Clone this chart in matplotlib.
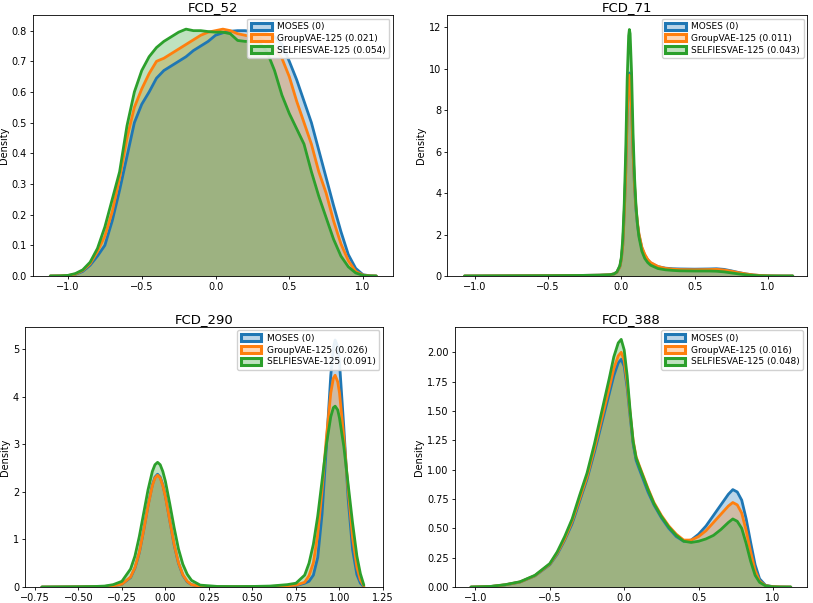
import matplotlib
matplotlib.use("Agg")
import matplotlib.pyplot as plt
from matplotlib.patches import Patch
from matplotlib.colors import to_rgba

series_labels = {
    "FCD_52": ["MOSES (0)", "GroupVAE-125 (0.021)", "SELFIESVAE-125 (0.054)"],
    "FCD_71": ["MOSES (0)", "GroupVAE-125 (0.011)", "SELFIESVAE-125 (0.043)"],
    "FCD_290": ["MOSES (0)", "GroupVAE-125 (0.026)", "SELFIESVAE-125 (0.091)"],
    "FCD_388": ["MOSES (0)", "GroupVAE-125 (0.016)", "SELFIESVAE-125 (0.048)"],
}
colors = ["#1f77b4", "#ff7f0e", "#2ca02c"]

# ---- FCD_52 ----
tl_x = [-1.12, -1.05, -1.0, -0.95, -0.9, -0.85, -0.8, -0.75, -0.7, -0.65, -0.6, -0.55, -0.5, -0.45,
        -0.4, -0.35, -0.3, -0.25, -0.2, -0.15, -0.1, -0.05, 0.0, 0.05, 0.1, 0.15, 0.2, 0.25, 0.3,
        0.35, 0.4, 0.45, 0.5, 0.55, 0.6, 0.65, 0.7, 0.75, 0.8, 0.85, 0.9, 0.95, 1.0, 1.05, 1.09]
tl_moses = [0, 0.0003, 0.001, 0.005, 0.015, 0.035, 0.065, 0.10, 0.18, 0.28, 0.39, 0.50, 0.56, 0.60,
            0.645, 0.67, 0.685, 0.70, 0.715, 0.735, 0.75, 0.765, 0.785, 0.793, 0.798, 0.80, 0.80,
            0.797, 0.795, 0.79, 0.78, 0.755, 0.70, 0.64, 0.57, 0.50, 0.41, 0.32, 0.23, 0.145, 0.07,
            0.025, 0.004, 0.0005, 0]
tl_group = [0, 0.0004, 0.0015, 0.006, 0.018, 0.04, 0.08, 0.13, 0.21, 0.32, 0.45, 0.55, 0.61, 0.66,
            0.70, 0.71, 0.725, 0.74, 0.755, 0.77, 0.785, 0.795, 0.80, 0.805, 0.80, 0.79, 0.785,
            0.78, 0.775, 0.76, 0.74, 0.71, 0.65, 0.57, 0.50, 0.43, 0.34, 0.27, 0.18, 0.105, 0.05,
            0.015, 0.003, 0.0004, 0]
tl_selfies = [0, 0.0005, 0.002, 0.008, 0.02, 0.045, 0.09, 0.16, 0.25, 0.34, 0.49, 0.60, 0.67, 0.715,
              0.745, 0.765, 0.78, 0.795, 0.805, 0.80, 0.80, 0.797, 0.795, 0.795, 0.79, 0.768, 0.765,
              0.765, 0.76, 0.73, 0.67, 0.59, 0.53, 0.48, 0.43, 0.34, 0.26, 0.19, 0.12, 0.065, 0.03,
              0.01, 0.002, 0.0003, 0]

# ---- FCD_71 ----
tr_x = [-1.07, -0.9, -0.7, -0.5, -0.3, -0.15, -0.08, -0.05, -0.03, -0.01, 0.0, 0.01, 0.02, 0.03,
        0.04, 0.05, 0.055, 0.06, 0.07, 0.08, 0.09, 0.10, 0.11, 0.12, 0.14, 0.16, 0.18, 0.2, 0.25,
        0.3, 0.35, 0.4, 0.5, 0.6, 0.65, 0.7, 0.75, 0.8, 0.85, 0.9, 0.95, 1.0, 1.05, 1.1, 1.17]
tr_moses = [0, 0.005, 0.01, 0.015, 0.025, 0.04, 0.06, 0.1, 0.18, 0.45, 0.8, 1.5, 3.0, 5.0, 7.9, 9.5,
            9.8, 9.6, 8.2, 6.0, 4.3, 3.2, 2.5, 2.0, 1.35, 1.0, 0.78, 0.63, 0.45, 0.38, 0.35, 0.34,
            0.33, 0.34, 0.35, 0.32, 0.25, 0.17, 0.1, 0.05, 0.02, 0.005, 0.001, 0, 0]
tr_group = [0, 0.005, 0.01, 0.015, 0.025, 0.04, 0.06, 0.1, 0.18, 0.45, 0.8, 1.5, 3.0, 4.9, 7.8, 9.4,
            9.7, 9.5, 8.1, 6.0, 4.4, 3.3, 2.6, 2.05, 1.4, 1.05, 0.8, 0.65, 0.46, 0.37, 0.33, 0.31,
            0.3, 0.31, 0.32, 0.29, 0.23, 0.16, 0.1, 0.055, 0.025, 0.01, 0.004, 0.001, 0]
tr_selfies = [0, 0.005, 0.01, 0.015, 0.025, 0.04, 0.06, 0.1, 0.2, 0.5, 0.9, 1.8, 3.5, 6.0, 9.5, 11.6,
              11.9, 11.7, 9.8, 6.9, 4.8, 3.4, 2.5, 1.9, 1.2, 0.85, 0.65, 0.52, 0.36, 0.3, 0.27, 0.25,
              0.24, 0.24, 0.23, 0.2, 0.15, 0.1, 0.06, 0.03, 0.01, 0.003, 0.001, 0, 0]

# ---- FCD_290 ----
bl_x = [-0.71, -0.6, -0.5, -0.4, -0.35, -0.3, -0.25, -0.2, -0.175, -0.15, -0.125, -0.1, -0.075,
        -0.06, -0.045, -0.03, -0.015, 0.0, 0.025, 0.05, 0.075, 0.1, 0.125, 0.15, 0.2, 0.3, 0.4,
        0.5, 0.6, 0.7, 0.75, 0.8, 0.825, 0.85, 0.875, 0.9, 0.925, 0.95, 0.965, 0.975, 0.99, 1.0,
        1.025, 1.05, 1.075, 1.1, 1.12, 1.14]
bl_moses = [0, 0.002, 0.004, 0.008, 0.012, 0.025, 0.06, 0.2, 0.4, 0.72, 1.19, 1.71, 2.15, 2.31,
            2.37, 2.31, 2.15, 1.91, 1.40, 0.89, 0.50, 0.25, 0.11, 0.05, 0.015, 0.005, 0.004,
            0.005, 0.01, 0.02, 0.03, 0.08, 0.12, 0.25, 0.62, 1.54, 2.97, 4.45, 5.03, 5.19, 5.05,
            4.72, 3.35, 1.84, 0.79, 0.26, 0.08, 0.01]
bl_group = [0, 0.002, 0.004, 0.008, 0.012, 0.025, 0.06, 0.21, 0.41, 0.73, 1.19, 1.70, 2.13, 2.29,
            2.35, 2.29, 2.13, 1.90, 1.40, 0.90, 0.51, 0.26, 0.12, 0.05, 0.015, 0.006, 0.005,
            0.006, 0.012, 0.025, 0.04, 0.1, 0.24, 0.51, 1.11, 2.04, 3.15, 4.08, 4.39, 4.45, 4.31,
            4.08, 3.15, 2.04, 1.05, 0.42, 0.15, 0.02]
bl_selfies = [0, 0.003, 0.006, 0.012, 0.02, 0.05, 0.12, 0.38, 0.65, 1.06, 1.55, 2.04, 2.43, 2.57,
              2.62, 2.57, 2.43, 2.22, 1.75, 1.25, 0.80, 0.48, 0.27, 0.14, 0.04, 0.012, 0.01,
              0.012, 0.02, 0.05, 0.08, 0.25, 0.5, 0.9, 1.49, 2.24, 3.0, 3.58, 3.77, 3.8, 3.72,
              3.55, 2.95, 2.15, 1.35, 0.65, 0.28, 0.04]

# ---- FCD_388 ----
br_x = [-1.03, -0.9, -0.8, -0.7, -0.6, -0.5, -0.45, -0.4, -0.35, -0.3, -0.25, -0.2, -0.15, -0.1,
        -0.07, -0.04, -0.02, 0.0, 0.02, 0.04, 0.06, 0.08, 0.1, 0.13, 0.16, 0.2, 0.25, 0.3, 0.35,
        0.4, 0.45, 0.5, 0.55, 0.6, 0.65, 0.7, 0.73, 0.76, 0.79, 0.82, 0.85, 0.88, 0.91, 0.95,
        1.0, 1.05, 1.12]
br_moses = [0, 0.004, 0.018, 0.042, 0.095, 0.19, 0.28, 0.4, 0.54, 0.73, 0.92, 1.15, 1.4, 1.65, 1.8,
            1.91, 1.94, 1.88, 1.7, 1.45, 1.22, 1.08, 1.01, 0.91, 0.81, 0.7, 0.59, 0.5, 0.43, 0.39,
            0.4, 0.45, 0.52, 0.61, 0.7, 0.79, 0.83, 0.81, 0.74, 0.58, 0.38, 0.19, 0.07, 0.015,
            0.003, 0.001, 0]
br_group = [0, 0.004, 0.019, 0.043, 0.097, 0.195, 0.29, 0.41, 0.56, 0.75, 0.94, 1.18, 1.44, 1.7,
            1.86, 1.97, 2.0, 1.93, 1.74, 1.48, 1.25, 1.11, 1.04, 0.94, 0.84, 0.72, 0.61, 0.52,
            0.45, 0.4, 0.4, 0.43, 0.48, 0.55, 0.62, 0.69, 0.72, 0.7, 0.63, 0.48, 0.3, 0.14, 0.05,
            0.012, 0.003, 0.001, 0]
br_selfies = [0, 0.005, 0.02, 0.045, 0.1, 0.2, 0.3, 0.43, 0.58, 0.78, 0.97, 1.22, 1.5, 1.78, 1.96,
              2.08, 2.11, 2.02, 1.8, 1.5, 1.24, 1.1, 1.03, 0.93, 0.83, 0.71, 0.6, 0.51, 0.44, 0.39,
              0.38, 0.39, 0.41, 0.44, 0.49, 0.55, 0.58, 0.56, 0.5, 0.37, 0.22, 0.1, 0.04, 0.01,
              0.002, 0, 0]

tl_xticks = [-1.0, -0.5, 0.0, 0.5, 1.0]
tl_yticks = [0.0, 0.1, 0.2, 0.3, 0.4, 0.5, 0.6, 0.7, 0.8]
tr_xticks = [-1.0, -0.5, 0.0, 0.5, 1.0]
tr_yticks = [0, 2, 4, 6, 8, 10, 12]
bl_xticks = [-0.75, -0.5, -0.25, 0.0, 0.25, 0.5, 0.75, 1.0, 1.25]
bl_yticks = [0, 1, 2, 3, 4, 5]
br_xticks = [-1.0, -0.5, 0.0, 0.5, 1.0]
br_yticks = [0.0, 0.25, 0.5, 0.75, 1.0, 1.25, 1.5, 1.75, 2.0]

panels = [
    ("FCD_52", tl_x, [tl_moses, tl_group, tl_selfies], [0.0406, 0.5423, 0.4428, 0.4328],
     (-1.237, 1.203), (0, 0.851), tl_xticks, tl_yticks, "%.1f", "%.1f"),
    ("FCD_71", tr_x, [tr_moses, tr_group, tr_selfies], [0.5504, 0.5423, 0.4428, 0.4328],
     (-1.186, 1.27), (0, 12.6), tr_xticks, tr_yticks, "%.1f", "%d"),
    ("FCD_290", bl_x, [bl_moses, bl_group, bl_selfies], [0.0311, 0.0265, 0.4400, 0.4317],
     (-0.805, 1.23), (0, 5.47), bl_xticks, bl_yticks, "%.2f", "%d"),
    ("FCD_388", br_x, [br_moses, br_group, br_selfies], [0.5597, 0.0265, 0.4326, 0.4317],
     (-1.137, 1.227), (0, 2.218), br_xticks, br_yticks, "%.1f", "%.2f"),
]

fig = plt.figure(figsize=(8.13, 6.03), dpi=100)
for title, xs, ys, pos, xl, yl, xt, yt, xf, yf in panels:
    ax = fig.add_axes(pos)
    for y, c in zip(ys, colors):
        ax.fill_between(xs, y, 0, color=c, alpha=0.3, lw=0)
    for y, c in zip(ys, colors):
        ax.plot(xs, y, color=c, lw=2.0, solid_capstyle="round", solid_joinstyle="round")
    ax.set_xlim(*xl)
    ax.set_ylim(*yl)
    ax.set_xticks(xt)
    ax.set_yticks(yt)
    ax.set_xticklabels([(xf % v).replace("-", "\u2212") for v in xt])
    ax.set_yticklabels([yf % v for v in yt])
    ax.tick_params(labelsize=7, length=2.5, width=0.6, pad=2)
    for s in ax.spines.values():
        s.set_linewidth(0.6)
    ax.set_ylabel("Density", fontsize=7, labelpad=2)
    ax.set_title(title, fontsize=9.5, pad=3)
    handles = [Patch(facecolor=to_rgba(c, 0.3), edgecolor=c, lw=2.2) for c in colors]
    ax.legend(handles, series_labels[title], loc="upper right", fontsize=6.5,
              handlelength=2.3, handleheight=0.8, borderpad=0.4, labelspacing=0.3,
              handletextpad=0.6, borderaxespad=0.4, framealpha=0.9)

fig.savefig("out.png", dpi=100)
